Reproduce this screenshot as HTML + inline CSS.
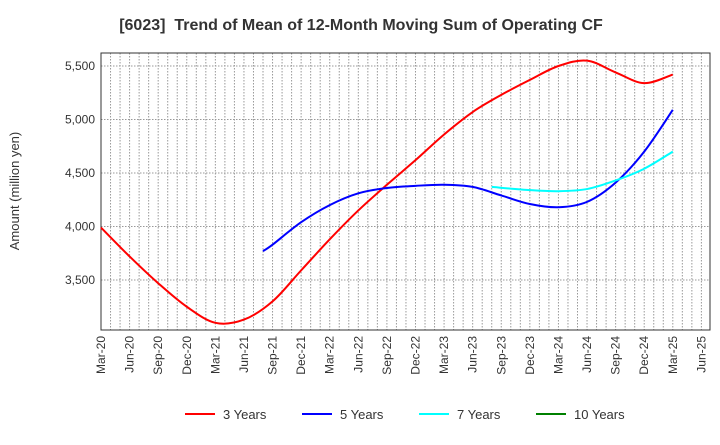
<!DOCTYPE html>
<html><head><meta charset="utf-8"><style>
body{margin:0;background:#fff;font-family:"Liberation Sans",sans-serif}
</style></head><body>
<svg id="c" width="720" height="440" xmlns="http://www.w3.org/2000/svg">
<text x="361" y="30" text-anchor="middle" font-size="16" font-weight="bold" fill="#333">[6023]&#160; Trend of Mean of 12-Month Moving Sum of Operating CF</text>
<text transform="translate(19,191) rotate(-90)" text-anchor="middle" font-size="13" fill="#333">Amount (million yen)</text>
<g id="grid"></g><g id="axes"></g><g id="series"></g><g id="legend"></g>
</svg>
<script>
const xLabels=["Mar-20","Jun-20","Sep-20","Dec-20","Mar-21","Jun-21","Sep-21","Dec-21","Mar-22","Jun-22","Sep-22","Dec-22","Mar-23","Jun-23","Sep-23","Dec-23","Mar-24","Jun-24","Sep-24","Dec-24","Mar-25","Jun-25"];
const yTicks=[3500,4000,4500,5000,5500];
const s3m=[0,3,6,9,12,15,18,21,24,27,30,33,36,39,42,45,48,51,54,57,60];
const s3v=[3990,3720,3470,3250,3100,3130,3300,3590,3880,4150,4390,4620,4860,5070,5230,5370,5500,5550,5440,5340,5420];
const s5m=[17,18,21,24,27,30,33,36,39,42,45,48,51,54,57,60];
const s5v=[3770,3830,4040,4200,4310,4360,4380,4390,4370,4290,4210,4180,4230,4410,4700,5090];
const s7m=[41,45,48,51,54,57,60];
const s7v=[4370,4340,4330,4350,4430,4540,4700];
const L=101,R=710,T=53,B=330;
const X=m=>L+m*9.53;
const Y=v=>66+(5500-v)*53.5/500;
const NS="http://www.w3.org/2000/svg";
function mk(tag,attrs,parent){const e=document.createElementNS(NS,tag);for(const k in attrs)e.setAttribute(k,attrs[k]);parent.appendChild(e);return e;}
const grid=document.getElementById('grid'),axes=document.getElementById('axes'),ser=document.getElementById('series'),leg=document.getElementById('legend');
for(let m=1;m<64;m++){const g=mk('line',{x1:X(m),x2:X(m),y1:T,y2:B,stroke:'#999','stroke-dasharray':'1.5,1.5','stroke-width':1},grid);

}
yTicks.forEach(v=>{const g=mk('line',{x1:L,x2:R,y1:Y(v),y2:Y(v),stroke:'#999','stroke-dasharray':'1.5,1.5'},grid);


const t=mk('text',{x:L-6,y:Y(v)+4,'text-anchor':'end','font-size':12,fill:'#333'},axes);t.textContent=v.toLocaleString('en-US');

});
const fr=mk('rect',{x:L,y:T,width:R-L,height:B-T,fill:'none',stroke:'#333','stroke-width':1},axes);


xLabels.forEach((s,i)=>{const x=X(i*3);const t=mk('text',{transform:`translate(${x+4},${B+6}) rotate(-90)`,'text-anchor':'end','font-size':12,fill:'#333'},axes);t.textContent=s;

});
function path(ms,vs){const p=ms.map((m,i)=>[X(m),Y(vs[i])]);let d=`M${p[0][0]},${p[0][1]}`;
for(let i=0;i<p.length-1;i++){const p0=p[i-1]||p[i],p1=p[i],p2=p[i+1],p3=p[i+2]||p2;
d+=` C${p1[0]+(p2[0]-p0[0])/6},${p1[1]+(p2[1]-p0[1])/6} ${p2[0]-(p3[0]-p1[0])/6},${p2[1]-(p3[1]-p1[1])/6} ${p2[0]},${p2[1]}`;}return d;}
[[s3m,s3v,'#ff0000','line-3-years'],[s5m,s5v,'#0000ff','line-5-years'],[s7m,s7v,'#00ffff','line-7-years']].forEach(a=>{
const e=mk('path',{d:path(a[0],a[1]),fill:'none',stroke:a[2],'stroke-width':2},ser);

});
[['3 Years','#ff0000',185],['5 Years','#0000ff',302],['7 Years','#00ffff',419],['10 Years','#008000',536]].forEach(a=>{
const g=mk('g',{},leg);


mk('line',{x1:a[2],x2:a[2]+30,y1:414,y2:414,stroke:a[1],'stroke-width':2},g);
const t=mk('text',{x:a[2]+38,y:419,'font-size':13,fill:'#333'},g);t.textContent=a[0];});
</script>
</body></html>
